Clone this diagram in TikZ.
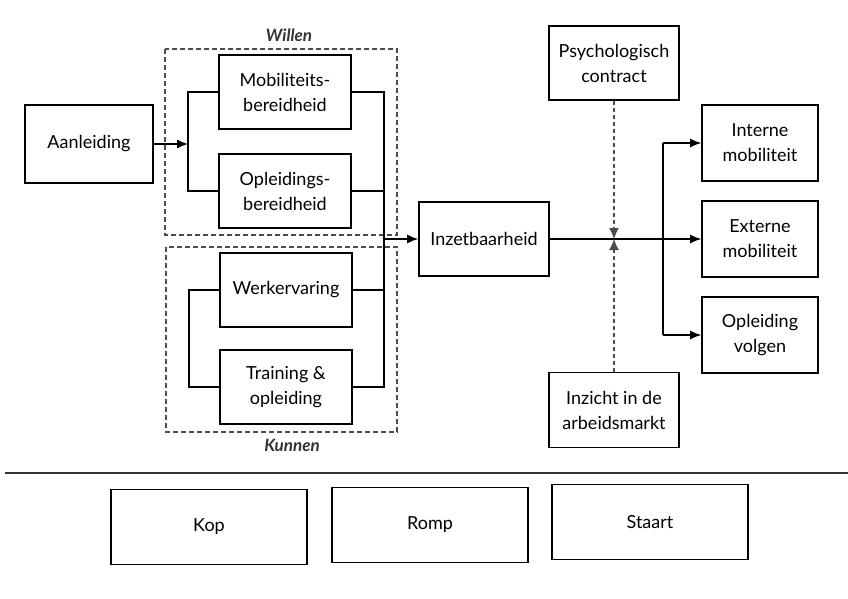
\documentclass[tikz,border=0pt]{standalone}
\usepackage{fontspec}
\setmainfont{Lato}
\usetikzlibrary{arrows.meta}

\begin{document}
\begin{tikzpicture}[x=1pt,y=-1pt,
  box/.style={draw, line width=1.6pt, align=center, inner sep=0pt,
    font=\fontsize{18}{25}\selectfont},
  lbox/.style={box, minimum width=132pt, minimum height=74pt},
  rbox/.style={box, minimum width=116pt, minimum height=76pt},
  bbox/.style={box, minimum width=196pt, minimum height=75pt},
  group/.style={draw=black!70, dash pattern=on 5pt off 3pt, line width=1.3pt},
  link/.style={line width=1.3pt},
  arr/.style={link, -{Latex[length=11pt,width=9pt]}},
  hint/.style={draw=black!70, dash pattern=on 4pt off 3pt, line width=1.3pt,
    -{Latex[length=11pt,width=10pt]}},
  tag/.style={font=\fontsize{17}{19}\selectfont\itshape\bfseries, text=black!80}]
  \useasboundingbox (0,0) rectangle (848,599);

  % Dashed groups
  \draw[group] (165,49) rectangle (397,235);
  \draw[group] (166,247) rectangle (397,432);
  \node[tag] (willen) at (289,35) {Willen};
  \node[tag] (kunnen) at (292,445) {Kunnen};

  % Boxes on the left
  \node[box, minimum width=128pt, minimum height=78pt] (aanl) at (89,144) {Aanleiding};
  \node[lbox] (mob) at (285,92) {Mobiliteits-\\bereidheid};
  \node[lbox] (opl) at (285,191) {Opleidings-\\bereidheid};
  \node[lbox] (werk) at (286,290) {Werkervaring};
  \node[lbox] (train) at (286,387) {Training \&\\opleiding};

  % Middle
  \node[box, minimum width=130pt, minimum height=74pt] (inzet) at (484,239) {Inzetbaarheid};
  \node[box, minimum width=130pt, minimum height=74pt] (psy) at (614,63) {Psychologisch\\contract};
  \node[box, minimum width=130pt, minimum height=75pt] (inz) at (614,410) {Inzicht in de\\arbeidsmarkt};

  % Boxes on the right
  \node[rbox] (intern) at (760,143) {Interne\\mobiliteit};
  \node[rbox] (extern) at (760,239) {Externe\\mobiliteit};
  \node[rbox] (volg) at (760,335) {Opleiding\\volgen};

  % Brackets
  \coordinate (wl) at (188,0);
  \coordinate (kl) at (189,0);
  \coordinate (rb) at (384,0);
  \coordinate (br) at (663,0);
  \draw[link] (mob.west) -- (mob.west -| wl) -- (opl.west -| wl) -- (opl.west);
  \draw[link] (werk.west) -- (werk.west -| kl) -- (train.west -| kl) -- (train.west);
  \draw[link] (mob.east) -- (mob.east -| rb) -- (train.east -| rb) -- (train.east);
  \draw[link] (opl.east) -- (opl.east -| rb);
  \draw[link] (werk.east) -- (werk.east -| rb);
  \draw[arr] (aanl.east) -- (aanl.east -| wl);
  \draw[arr] (inzet.west -| rb) -- (inzet.west);

  % Outcomes
  \draw[arr] (inzet.east) -- (extern.west);
  \draw[link] (intern.west -| br) -- (volg.west -| br);
  \draw[arr] (intern.west -| br) -- (intern.west);
  \draw[arr] (volg.west -| br) -- (volg.west);
  \draw[hint] (psy.south) -- (psy.south |- inzet.east);
  \draw[hint] (inz.north) -- (inz.north |- inzet.east);

  % Bottom row
  \draw[line width=1.8pt, black!80] (5,473) -- (848,473);
  \node[bbox] (kop) at (209,527) {Kop};
  \node[bbox] (romp) at (430,525) {Romp};
  \node[bbox] (staart) at (650,522) {Staart};
\end{tikzpicture}
\end{document}
